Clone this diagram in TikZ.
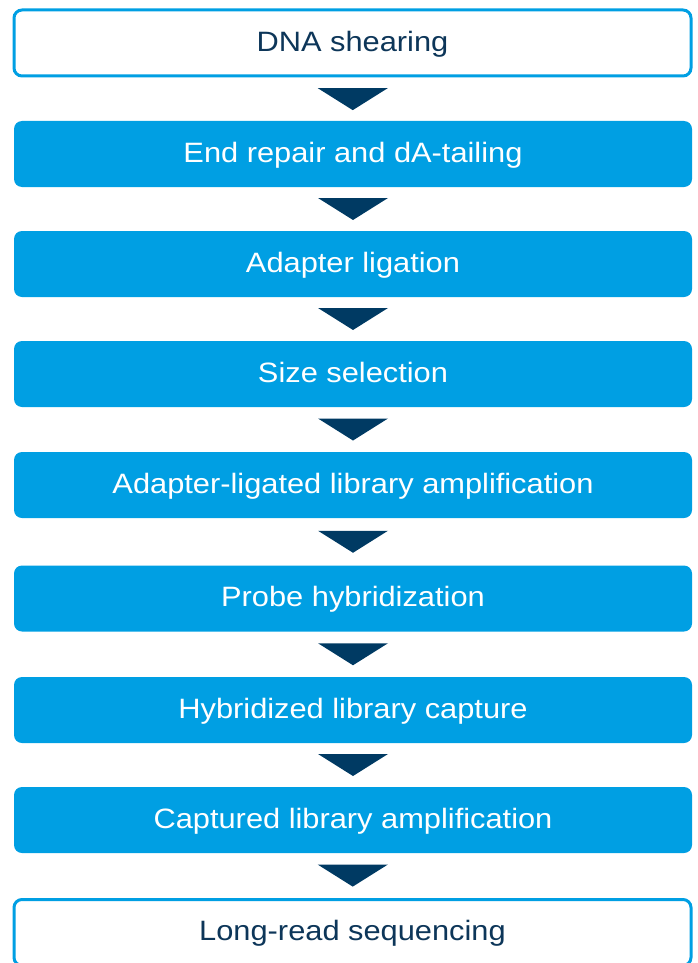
\documentclass[tikz,border=0pt]{standalone}
\usepackage{fontspec}
\setmainfont{Liberation Sans}[FakeStretch=1.1]
\usepackage{xcolor}
\usepackage{tikz}
\usetikzlibrary{calc,positioning}
\definecolor{Sky}{HTML}{009FE3}
\definecolor{Navy}{HTML}{003A63}
\definecolor{NavyText}{HTML}{0D3659}
\tikzset{
  flow/.style={rounded corners=8pt,minimum width=678pt,minimum height=66pt,inner sep=0pt,text height=20pt,text depth=3.5pt,align=center,font=\fontsize{28}{32}\selectfont},
  flowblue/.style={flow,fill=Sky,text=white},
  flowwhite/.style={flow,draw=Sky,line width=3pt,fill=white,text=NavyText,minimum width=677pt},
  pointer/.style={fill=Navy}
}

\begin{document}
\begin{tikzpicture}[x=1pt,y=-1pt]
  \useasboundingbox (0,0) rectangle (697,963);
  \node[flowwhite] (shear) at (352.5,43) {DNA shearing};
  \node[flowblue] (repair) at (353,154) {End repair and dA-tailing};
  \node[flowblue] (ligate) at (353,264) {Adapter ligation};
  \node[flowblue] (sizesel) at (353,374) {Size selection};
  \node[flowblue] (preamp) at (353,485) {Adapter-ligated library amplification};
  \node[flowblue] (hybrid) at (353,598.5) {Probe hybridization};
  \node[flowblue] (capture) at (353,710) {Hybridized library capture};
  \node[flowblue] (postamp) at (353,820) {Captured library amplification};
  \node[flowwhite] (seq) at (352.5,932.5) {Long-read sequencing};
  % down pointers between the steps
  \foreach \a/\b in {shear/repair,repair/ligate,ligate/sizesel,sizesel/preamp,preamp/hybrid,hybrid/capture,capture/postamp,postamp/seq} {
    \coordinate (mid) at ($(\a.south)!0.5!(\b.north)$);
    \fill[pointer] ($(mid)+(-35,-11)$) -- ($(mid)+(35,-11)$) -- ($(mid)+(0,11)$) -- cycle;
  }
\end{tikzpicture}
\end{document}
